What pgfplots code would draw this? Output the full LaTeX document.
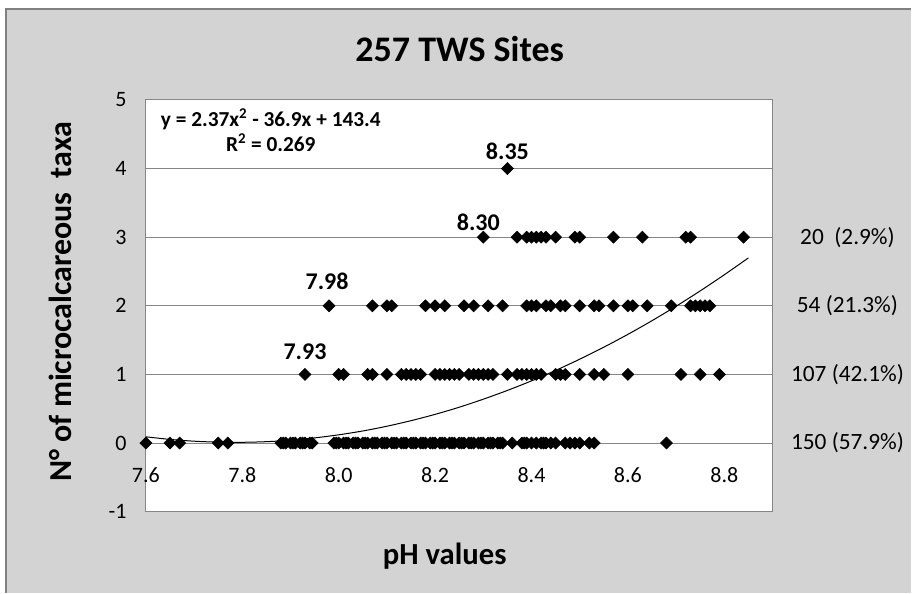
\documentclass[border=0pt]{standalone}
\usepackage{fontspec}
\setmainfont{Carlito}
\usepackage{pgfplots}
\pgfplotsset{compat=1.18}
\definecolor{bgray}{RGB}{211,211,211}
\definecolor{gridc}{RGB}{134,134,134}
\definecolor{framec}{RGB}{128,128,128}
\begin{document}
\begin{tikzpicture}[x=0.75pt,y=0.75pt]
\fill[white] (0,0) rectangle (912,593);
\fill[bgray] (6,0) rectangle (912,584);
\draw[framec, line width=0.9pt] (6,0) -- (6,584) -- (912,584);
\useasboundingbox (0,0) rectangle (912,593);
\begin{axis}[
  at={(109.5pt,60.75pt)}, anchor=south west,
  scale only axis, width=470.25pt, height=309pt,
  xmin=7.6, xmax=8.9, ymin=-1, ymax=5,
  xtick={7.6,7.8,8.0,8.2,8.4,8.6,8.8},
  xticklabels={7.6,7.8,8.0,8.2,8.4,8.6,8.8},
  ytick={-1,0,1,2,3,4,5},
  ymajorgrids, grid style={gridc, line width=0.75pt},
  axis line style={gridc, line width=0.75pt},
  major tick length=0pt,
  axis background/.style={fill=white},
  tick label style={font=\fontsize{16.5}{18}\selectfont},
  /pgf/number format/assume math mode=true,
  xticklabel style={anchor=center, yshift=27.75pt},
  yticklabel style={xshift=-11pt},
  clip=false,
  every axis plot/.append style={mark size=3.2pt, mark options={rotate=45, fill=black, draw=black}},
]
% 0 taxa
\addplot[only marks, mark=square*] table[row sep=\\] {
x y\\
7.60 0\\ 7.65 0\\ 7.67 0\\ 7.75 0\\ 7.77 0\\
7.88 0\\ 7.885 0\\ 7.89 0\\ 7.90 0\\ 7.905 0\\ 7.91 0\\ 7.92 0\\ 7.925 0\\ 7.93 0\\ 7.94 0\\ 7.945 0\\
7.99 0\\ 7.995 0\\ 8.00 0\\ 8.01 0\\ 8.015 0\\ 8.02 0\\ 8.03 0\\ 8.035 0\\ 8.04 0\\ 8.05 0\\ 8.055 0\\
8.06 0\\ 8.07 0\\ 8.075 0\\ 8.08 0\\
8.09 0\\ 8.095 0\\ 8.10 0\\ 8.11 0\\ 8.115 0\\ 8.12 0\\ 8.13 0\\ 8.135 0\\ 8.14 0\\ 8.15 0\\ 8.155 0\\
8.16 0\\ 8.17 0\\ 8.175 0\\ 8.18 0\\ 8.19 0\\ 8.195 0\\ 8.20 0\\ 8.21 0\\ 8.215 0\\ 8.22 0\\ 8.23 0\\
8.235 0\\ 8.24 0\\ 8.25 0\\ 8.255 0\\ 8.26 0\\ 8.27 0\\ 8.275 0\\ 8.28 0\\ 8.29 0\\ 8.295 0\\
8.30 0\\ 8.31 0\\ 8.315 0\\ 8.32 0\\ 8.33 0\\ 8.335 0\\ 8.34 0\\
8.36 0\\ 8.38 0\\ 8.385 0\\ 8.39 0\\ 8.40 0\\ 8.41 0\\ 8.42 0\\ 8.425 0\\ 8.43 0\\ 8.44 0\\ 8.45 0\\
8.47 0\\ 8.48 0\\ 8.49 0\\ 8.50 0\\ 8.52 0\\ 8.53 0\\ 8.68 0\\
};
% 1 taxon
\addplot[only marks, mark=square*] table[row sep=\\] {
x y\\
7.93 1\\ 8.00 1\\ 8.01 1\\ 8.06 1\\ 8.07 1\\ 8.10 1\\ 8.13 1\\ 8.14 1\\ 8.15 1\\ 8.16 1\\
8.17 1\\ 8.20 1\\ 8.21 1\\ 8.22 1\\ 8.23 1\\ 8.24 1\\ 8.25 1\\ 8.27 1\\ 8.28 1\\ 8.29 1\\
8.30 1\\ 8.31 1\\ 8.32 1\\ 8.35 1\\ 8.37 1\\ 8.38 1\\ 8.39 1\\ 8.40 1\\ 8.41 1\\ 8.42 1\\
8.45 1\\ 8.46 1\\ 8.47 1\\ 8.50 1\\ 8.53 1\\ 8.55 1\\ 8.60 1\\ 8.71 1\\ 8.75 1\\ 8.79 1\\
};
% 2 taxa
\addplot[only marks, mark=square*] table[row sep=\\] {
x y\\
7.98 2\\ 8.07 2\\ 8.10 2\\ 8.11 2\\ 8.18 2\\ 8.20 2\\ 8.22 2\\ 8.26 2\\ 8.28 2\\ 8.31 2\\
8.34 2\\ 8.39 2\\ 8.40 2\\ 8.41 2\\ 8.43 2\\ 8.44 2\\ 8.46 2\\ 8.47 2\\ 8.50 2\\ 8.53 2\\
8.54 2\\ 8.57 2\\ 8.60 2\\ 8.61 2\\ 8.64 2\\ 8.69 2\\ 8.73 2\\ 8.74 2\\ 8.75 2\\ 8.76 2\\
8.77 2\\
};
% 3 taxa
\addplot[only marks, mark=square*] table[row sep=\\] {
x y\\
8.30 3\\ 8.37 3\\ 8.39 3\\ 8.40 3\\ 8.41 3\\ 8.42 3\\ 8.43 3\\ 8.45 3\\ 8.49 3\\ 8.50 3\\
8.57 3\\ 8.63 3\\ 8.72 3\\ 8.73 3\\ 8.84 3\\
};
% 4 taxa
\addplot[only marks, mark=square*] table[row sep=\\] {
x y\\
8.35 4\\
};
% polynomial trend line
\addplot[black, line width=0.75pt, smooth, no marks] table[row sep=\\] {
x y\\
7.60 0.091\\ 7.65 0.053\\ 7.70 0.027\\ 7.75 0.013\\ 7.80 0.011\\ 7.85 0.020\\
7.90 0.041\\ 7.95 0.075\\ 8.00 0.120\\ 8.05 0.176\\ 8.10 0.245\\ 8.15 0.326\\
8.20 0.418\\ 8.25 0.522\\ 8.30 0.639\\ 8.35 0.767\\ 8.40 0.906\\ 8.45 1.058\\
8.50 1.222\\ 8.55 1.397\\ 8.60 1.584\\ 8.65 1.783\\ 8.70 1.994\\ 8.75 2.217\\
8.80 2.452\\ 8.85 2.698\\
};
% data labels
\node[anchor=base, font=\bfseries\fontsize{18}{20}\selectfont, yshift=6.75pt] at (axis cs:8.35,4) {8.35};
\node[anchor=base, font=\bfseries\fontsize{18}{20}\selectfont, yshift=5.25pt, xshift=-3.75pt] at (axis cs:8.30,3) {8.30};
\node[anchor=base, font=\bfseries\fontsize{18}{20}\selectfont, yshift=12pt, xshift=-1.5pt] at (axis cs:7.98,2) {7.98};
\node[anchor=base, font=\bfseries\fontsize{18}{20}\selectfont, yshift=11.25pt] at (axis cs:7.93,1) {7.93};
% right-hand counts
\node[anchor=center, font=\fontsize{17.5}{20}\selectfont, xshift=56.25pt] at (axis cs:8.9,3) {20\ \ (2.9\%)};
\node[anchor=center, font=\fontsize{17.5}{20}\selectfont, xshift=56.25pt] at (axis cs:8.9,2) {54 (21.3\%)};
\node[anchor=center, font=\fontsize{17.5}{20}\selectfont, xshift=56.25pt] at (axis cs:8.9,1) {107 (42.1\%)};
\node[anchor=center, font=\fontsize{17.5}{20}\selectfont, xshift=56.25pt] at (axis cs:8.9,0) {150 (57.9\%)};
\end{axis}
% equation
\node[anchor=base, font=\bfseries\fontsize{16}{18}\selectfont] at (271,466) {y = 2.37x\textsuperscript{2} - 36.9x + 143.4};
\node[anchor=base, font=\bfseries\fontsize{16}{18}\selectfont] at (271,441) {R\textsuperscript{2} = 0.269};
% title and axis labels
\node[anchor=base, font=\bfseries\fontsize{27}{30}\selectfont] at (460,531) {257 TWS Sites};
\node[anchor=base, font=\bfseries\fontsize{23}{26}\selectfont] at (445,28) {pH values};
\node[anchor=base, rotate=90, font=\bfseries\fontsize{24}{26}\selectfont] at (72,291) {N° of microcalcareous\ \ taxa};
\end{tikzpicture}
\end{document}
